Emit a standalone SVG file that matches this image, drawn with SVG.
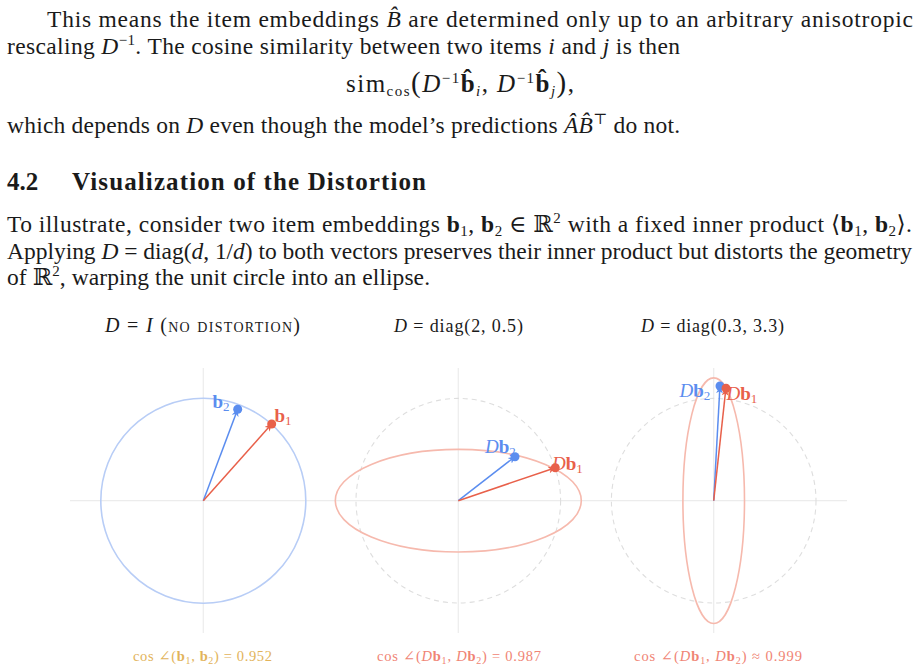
<svg xmlns="http://www.w3.org/2000/svg" width="919" height="669" viewBox="0 0 919 669">
<defs>
<style>
.t{font-family:"Liberation Serif","DejaVu Serif",serif;fill:#1a1a1a;font-size:23.5px}
.i{font-style:italic}
.b{font-weight:bold}
.h{font-family:"Liberation Serif","DejaVu Serif",serif;font-weight:bold;font-size:25px;fill:#1a1a1a}
.ttl{font-family:"Liberation Serif","DejaVu Serif",serif;font-size:18px;fill:#1a1a1a}
.axis{stroke:#ececec;stroke-width:1.2;fill:none}
.unit{stroke:#dedede;stroke-width:1.1;fill:none;stroke-dasharray:5 4}
.ell{stroke:#f6b9ad;stroke-width:1.6;fill:none}
.circ{stroke:#b8cdf6;stroke-width:1.6;fill:none}
.vr{stroke:#e8604a;stroke-width:1.5;fill:none;marker-end:url(#ar)}
.vb{stroke:#5b8def;stroke-width:1.5;fill:none;marker-end:url(#ab)}
.lr{font-family:"Liberation Serif","DejaVu Serif",serif;font-size:19px;fill:#e8604a}
.lb{font-family:"Liberation Serif","DejaVu Serif",serif;font-size:19px;fill:#5b8def}
.cap{font-family:"Liberation Serif","DejaVu Serif",serif;font-size:14.5px}
</style>
<marker id="ar" viewBox="0 0 10 10" refX="9" refY="5" markerWidth="7" markerHeight="7" markerUnits="userSpaceOnUse" orient="auto"><path d="M0,0 L10,5 L0,10 L3,5 Z" fill="#e8604a"/></marker>
<marker id="ab" viewBox="0 0 10 10" refX="9" refY="5" markerWidth="7" markerHeight="7" markerUnits="userSpaceOnUse" orient="auto"><path d="M0,0 L10,5 L0,10 L3,5 Z" fill="#5b8def"/></marker>
</defs>
<rect width="919" height="669" fill="#ffffff"/>

<g id="body-text">
<text class="t" x="47" y="27" textLength="866" lengthAdjust="spacing">This means the item embeddings <tspan class="i">B̂</tspan> are determined only up to an arbitrary anisotropic</text>
<text class="t" x="7" y="54" textLength="673" lengthAdjust="spacing">rescaling <tspan class="i">D</tspan><tspan font-size="15" dy="-9">−1</tspan><tspan dy="9">. The cosine similarity between two items </tspan><tspan class="i">i</tspan> and <tspan class="i">j</tspan> is then</text>
<text class="t" x="346" y="92" style="font-size:25px" textLength="228" lengthAdjust="spacing">sim<tspan font-size="15" dy="4">cos</tspan><tspan dy="-4" font-size="29">(</tspan><tspan class="i">D</tspan><tspan font-size="15" dy="-9">−1</tspan><tspan class="b" dy="9">b̂</tspan><tspan class="i" font-size="15" dy="4">i</tspan><tspan dy="-4">, </tspan><tspan class="i">D</tspan><tspan font-size="15" dy="-9">−1</tspan><tspan class="b" dy="9">b̂</tspan><tspan class="i" font-size="15" dy="4">j</tspan><tspan dy="-4" font-size="29">)</tspan>,</text>
<text class="t" x="7" y="133" textLength="673" lengthAdjust="spacing">which depends on <tspan class="i">D</tspan> even though the model’s predictions <tspan class="i">ÂB̂</tspan><tspan font-size="15" dy="-9">⊤</tspan><tspan dy="9"> do not.</tspan></text>
</g>

<g id="heading">
<text class="h" x="7" y="190">4.2</text>
<text class="h" x="72" y="190" textLength="354" lengthAdjust="spacing">Visualization of the Distortion</text>
</g>

<g id="paragraph">
<text class="t" x="7" y="232" textLength="905" lengthAdjust="spacing">To illustrate, consider two item embeddings <tspan class="b">b</tspan><tspan font-size="15" dy="4">1</tspan><tspan dy="-4">, </tspan><tspan class="b">b</tspan><tspan font-size="15" dy="4">2</tspan><tspan dy="-4"> ∈ ℝ</tspan><tspan font-size="15" dy="-9">2</tspan><tspan dy="9"> with a fixed inner product ⟨</tspan><tspan class="b">b</tspan><tspan font-size="15" dy="4">1</tspan><tspan dy="-4">, </tspan><tspan class="b">b</tspan><tspan font-size="15" dy="4">2</tspan><tspan dy="-4">⟩.</tspan></text>
<text class="t" x="7" y="259" textLength="905" lengthAdjust="spacing">Applying <tspan class="i">D</tspan> = diag(<tspan class="i">d</tspan>, 1/<tspan class="i">d</tspan>) to both vectors preserves their inner product but distorts the geometry</text>
<text class="t" x="7" y="285" textLength="423" lengthAdjust="spacing">of ℝ<tspan font-size="15" dy="-9">2</tspan><tspan dy="9">, warping the unit circle into an ellipse.</tspan></text>
</g>

<g id="axes">
<line class="axis" x1="70" y1="500.7" x2="847" y2="500.7"/>
<line class="axis" x1="203.3" y1="368" x2="203.3" y2="633"/>
<line class="axis" x1="458.3" y1="368" x2="458.3" y2="633"/>
<line class="axis" x1="713.7" y1="368" x2="713.7" y2="633"/>
</g>

<g id="panel-identity">
<text class="ttl" x="105" y="332" style="font-size:20px" textLength="195" lengthAdjust="spacing"><tspan class="i">D</tspan> = <tspan class="i">I</tspan>  <tspan font-variant="small-caps">(no distortion)</tspan></text>
<circle class="circ" cx="203.3" cy="500.7" r="102.5"/>
</g>

<g id="panel-diag-2-05">
<text class="ttl" x="394" y="332" textLength="129" lengthAdjust="spacing"><tspan class="i">D</tspan> = diag(2, 0.5)</text>
<circle class="unit" cx="458.3" cy="500.7" r="102.3"/>
<ellipse class="ell" cx="458.3" cy="500.7" rx="123" ry="51.3"/>
</g>

<g id="panel-diag-03-33">
<text class="ttl" x="641" y="332" textLength="143" lengthAdjust="spacing"><tspan class="i">D</tspan> = diag(0.3, 3.3)</text>
<circle class="unit" cx="713.7" cy="500.7" r="102.3"/>
<ellipse class="ell" cx="713.7" cy="500.7" rx="30.8" ry="122.8"/>
</g>

<g id="connectors">
<line class="vb" x1="203.3" y1="500.7" x2="237.4" y2="410"/>
<line class="vr" x1="203.3" y1="500.7" x2="271.2" y2="424.6"/>
<line class="vb" x1="458.3" y1="500.7" x2="514.6" y2="457"/>
<line class="vr" x1="458.3" y1="500.7" x2="554.6" y2="468"/>
<line class="vb" x1="713.7" y1="500.7" x2="719.9" y2="387"/>
<line class="vr" x1="713.7" y1="500.7" x2="725.8" y2="389.2"/>
</g>

<g id="point-b2"><circle cx="237.7" cy="409.3" r="4.5" fill="#5b8def"/><text class="lb" x="212.5" y="408"><tspan class="b">b</tspan><tspan font-size="13" dy="3">2</tspan></text></g>
<g id="point-b1"><circle cx="271.7" cy="424" r="4.5" fill="#e8604a"/><text class="lr" x="274.5" y="422"><tspan class="b">b</tspan><tspan font-size="13" dy="3">1</tspan></text></g>
<g id="point-Db2-a"><circle cx="515" cy="456.7" r="4.5" fill="#5b8def"/><text class="lb" x="485" y="453"><tspan class="i">D</tspan><tspan class="b">b</tspan><tspan font-size="13" dy="3">2</tspan></text></g>
<g id="point-Db1-a"><circle cx="555.3" cy="467.7" r="4.5" fill="#e8604a"/><text class="lr" x="552" y="469.5"><tspan class="i">D</tspan><tspan class="b">b</tspan><tspan font-size="13" dy="3">1</tspan></text></g>
<g id="point-Db2-b"><circle cx="720" cy="386" r="4.5" fill="#5b8def"/><text class="lb" x="679.5" y="397"><tspan class="i">D</tspan><tspan class="b">b</tspan><tspan font-size="13" dy="3">2</tspan></text></g>
<g id="point-Db1-b"><circle cx="726" cy="388.3" r="4.5" fill="#e8604a"/><text class="lr" x="726.5" y="400"><tspan class="i">D</tspan><tspan class="b">b</tspan><tspan font-size="13" dy="3">1</tspan></text></g>

<g id="captions">
<text class="cap" x="133" y="661" fill="#e2b35a" textLength="139" lengthAdjust="spacing">cos ∠(<tspan class="b">b</tspan><tspan font-size="10" dy="2.5">1</tspan><tspan dy="-2.5">, </tspan><tspan class="b">b</tspan><tspan font-size="10" dy="2.5">2</tspan><tspan dy="-2.5">) = 0.952</tspan></text>
<text class="cap" x="377" y="661" fill="#f08474" textLength="164" lengthAdjust="spacing">cos ∠(<tspan class="i">D</tspan><tspan class="b">b</tspan><tspan font-size="10" dy="2.5">1</tspan><tspan dy="-2.5">, </tspan><tspan class="i">D</tspan><tspan class="b">b</tspan><tspan font-size="10" dy="2.5">2</tspan><tspan dy="-2.5">) = 0.987</tspan></text>
<text class="cap" x="634" y="661" fill="#f08474" textLength="168" lengthAdjust="spacing">cos ∠(<tspan class="i">D</tspan><tspan class="b">b</tspan><tspan font-size="10" dy="2.5">1</tspan><tspan dy="-2.5">, </tspan><tspan class="i">D</tspan><tspan class="b">b</tspan><tspan font-size="10" dy="2.5">2</tspan><tspan dy="-2.5">) ≈ 0.999</tspan></text>
</g>
</svg>
